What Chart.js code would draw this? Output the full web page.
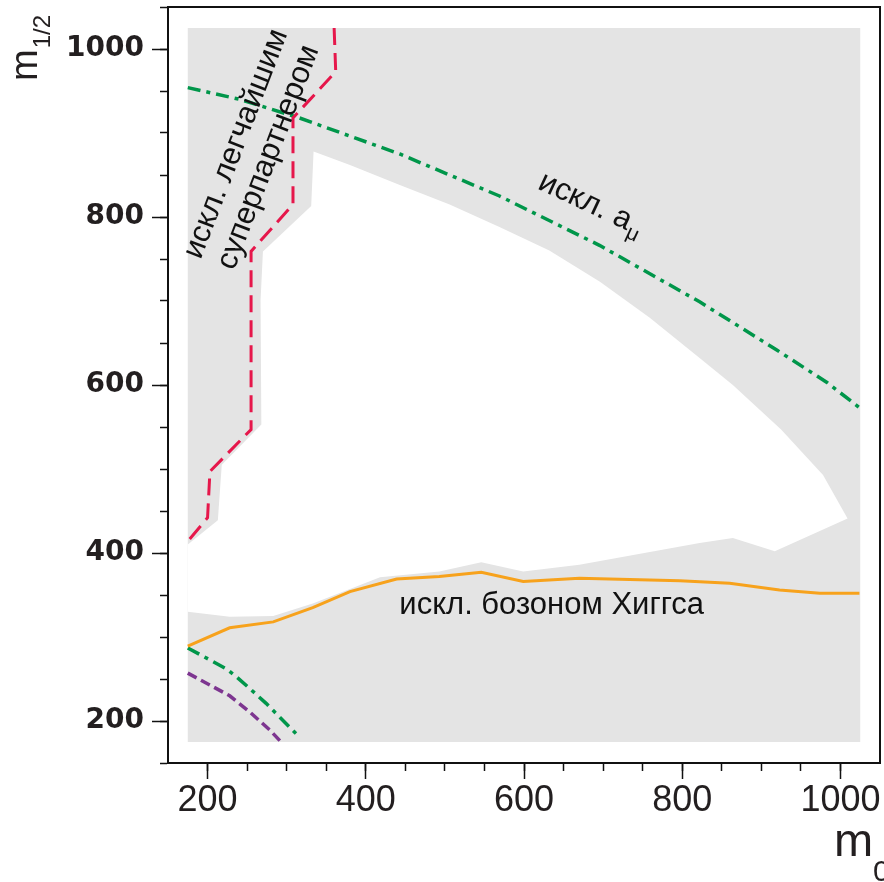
<!DOCTYPE html>
<html>
<head>
<meta charset="utf-8">
<script src="https://cdn.jsdelivr.net/npm/chart.js@4.4.1/dist/chart.umd.min.js"></script>
<style>
  html, body { margin: 0; padding: 0; background: #fff; }
</style>
</head>
<body>
<canvas id="chart" width="884" height="882"></canvas>
<script>
// m0 (x) vs m1/2 (y) plane
const axisMin = 150;
const axisMax = 1050;

// shaded scan square
const scanX = [175, 1025, 1025, 175];
const scanY = [1025, 1025, 175, 175];

// allowed (white) region outline
const allowedX = [334, 380, 443, 506, 569, 632, 696, 759, 822, 864, 925, 978, 1009, 917, 864, 822, 670, 599, 546, 493, 418, 380, 333, 283, 228, 175, 175, 213, 218, 268, 267, 270, 331];
const allowedY = [878, 862, 838, 815, 788, 760, 723, 680, 632, 600, 547, 493, 441, 402, 418, 412, 386, 378, 389, 378, 371, 357, 340, 325, 324, 330, 410, 439, 505, 553, 701, 759, 813];

// lightest superpartner limit (red dashed)
const lspX = [360, 362, 308, 308, 255, 255, 203, 200, 175];
const lspY = [1025, 973, 918, 815, 759, 547, 497, 442, 414];

// a_mu limit, upper branch (green dash-dot)
const amuX = [175, 241, 316, 443, 569, 696, 822, 919, 983, 1024];
const amuY = [954, 940, 918, 875, 825, 766, 699, 642, 603, 573];

// a_mu limit, lower branch
const amuLowX = [175, 224, 236, 253, 274, 314];
const amuLowY = [287, 262, 253, 239, 221, 183];

// Higgs boson limit (orange)
const higgsX = [175, 228, 283, 333, 380, 439, 493, 546, 599, 670, 797, 860, 923, 974, 1024];
const higgsY = [289, 311, 318, 335, 354, 369, 372, 377, 366, 370, 367, 364, 356, 352, 352];

// purple dashed curve
const purpleX = [175, 228, 253, 279, 293];
const purpleY = [257, 230, 211, 189, 175];

const pts = (xs, ys) => xs.map((x, i) => ({ x: x, y: ys[i] }));

const textFont = "'Liberation Sans', Arial, sans-serif";

function turnedText(ctx, text, x, y, deg, font) {
  ctx.save();
  ctx.translate(x, y);
  ctx.rotate(deg * Math.PI / 180);
  ctx.font = font;
  ctx.textAlign = 'center';
  ctx.textBaseline = 'middle';
  ctx.fillText(text, 0, 0);
  ctx.restore();
}

const annotations = {
  id: 'annotations',
  afterDatasetsDraw(chart) {
    const { ctx } = chart;
    const x = chart.scales.x;
    const y = chart.scales.y;
    ctx.save();
    ctx.fillStyle = '#111';

    turnedText(ctx, 'искл. легчайшим', x.getPixelForValue(236), y.getPixelForValue(887), -69, '31px ' + textFont);
    turnedText(ctx, 'суперпартнером', x.getPixelForValue(277), y.getPixelForValue(871), -69, '31px ' + textFont);
    turnedText(ctx, 'искл. бозоном Хиггса', x.getPixelForValue(635), y.getPixelForValue(338), 0, '31px ' + textFont);

    // "искл. a" with subscript mu, along the green curve
    ctx.save();
    ctx.translate(x.getPixelForValue(685), y.getPixelForValue(817));
    ctx.rotate(25 * Math.PI / 180);
    ctx.font = '31px ' + textFont;
    const w1 = ctx.measureText('искл. a').width;
    ctx.font = '21px ' + textFont;
    const w2 = ctx.measureText('μ').width;
    const start = -(w1 + w2) / 2;
    ctx.textAlign = 'left';
    ctx.textBaseline = 'alphabetic';
    ctx.font = '31px ' + textFont;
    ctx.fillText('искл. a', start, 10);
    ctx.font = '21px ' + textFont;
    ctx.fillText('μ', start + w1 + 1, 17);
    ctx.restore();

    // axis titles
    ctx.fillStyle = '#231f20';
    ctx.textAlign = 'left';
    ctx.textBaseline = 'alphabetic';
    ctx.save();
    ctx.translate(37, 81);
    ctx.rotate(-Math.PI / 2);
    ctx.font = '38px ' + textFont;
    const mw = ctx.measureText('m').width;
    ctx.fillText('m', 0, 0);
    ctx.font = '24px ' + textFont;
    ctx.fillText('1/2', mw + 1, 13);
    ctx.restore();

    ctx.font = '47px ' + textFont;
    ctx.fillText('m', 834, 856);
    ctx.font = '30px ' + textFont;
    ctx.fillText('0', 873, 881);

    ctx.restore();
  }
};

const edge = { color: '#111', width: 2 };
const noBound = c => (c.tick && (c.tick.value === axisMin || c.tick.value === axisMax)) ? 'rgba(0,0,0,0)' : '#111';
const fixSize = (w, h) => s => {
  if (w !== null) s.width = w;
  if (h !== null) s.height = h;
  s.paddingLeft = 0; s.paddingRight = 0; s.paddingTop = 0; s.paddingBottom = 0;
};

new Chart(document.getElementById('chart'), {
  type: 'line',
  data: {
    datasets: [
      { data: pts(scanX, scanY), fill: 'shape', backgroundColor: '#e4e4e4', borderWidth: 0, order: 5 },
      { data: pts(allowedX, allowedY), fill: 'shape', backgroundColor: '#ffffff', borderWidth: 0, order: 4 },
      { data: pts(higgsX, higgsY), borderColor: '#f7a21c', borderWidth: 3, order: 1 },
      { data: pts(amuX, amuY), borderColor: '#00964a', borderWidth: 3.5, borderDash: [13, 6, 4, 6], order: 2 },
      { data: pts(amuLowX, amuLowY), borderColor: '#00964a', borderWidth: 3.5, borderDash: [13, 6, 4, 6], order: 2 },
      { data: pts(purpleX, purpleY), borderColor: '#7d3590', borderWidth: 3.5, borderDash: [10, 5], order: 2 },
      { data: pts(lspX, lspY), borderColor: '#e6174b', borderWidth: 3, borderDash: [17, 8], order: 1 }
    ]
  },
  options: {
    responsive: false,
    animation: false,
    events: [],
    layout: { padding: { top: 7, right: 4, bottom: 0, left: 0 } },
    elements: {
      point: { radius: 0 },
      line: { tension: 0, fill: false, borderCapStyle: 'butt' }
    },
    plugins: { legend: { display: false }, tooltip: { enabled: false } },
    scales: {
      x: {
        type: 'linear', position: 'bottom', min: axisMin, max: axisMax, weight: 1,
        afterFit: fixSize(null, 119),
        border: edge,
        grid: { drawOnChartArea: false, tickLength: 16, tickColor: '#111', tickWidth: 1.5 },
        ticks: {
          stepSize: 200, includeBounds: false, autoSkip: false, maxRotation: 0, padding: 4,
          color: '#231f20',
          font: { family: "'Liberation Sans', Arial, sans-serif", size: 36, lineHeight: 1 },
          callback: v => String(v)
        }
      },
      xMinor: {
        type: 'linear', position: 'bottom', min: axisMin, max: axisMax, weight: 0,
        afterFit: fixSize(null, 0),
        border: edge,
        grid: { drawOnChartArea: false, tickLength: 8, tickColor: noBound, tickWidth: 1.5 },
        ticks: { stepSize: 50, display: false }
      },
      xTop: {
        type: 'linear', position: 'top', min: axisMin, max: axisMax,
        afterFit: fixSize(null, 0),
        border: edge,
        grid: { drawOnChartArea: false, drawTicks: false },
        ticks: { display: false }
      },
      y: {
        type: 'linear', position: 'left', min: axisMin, max: axisMax, weight: 1,
        afterFit: fixSize(168, null),
        border: edge,
        grid: { drawOnChartArea: false, tickLength: 16, tickColor: '#111', tickWidth: 1.5 },
        ticks: {
          stepSize: 200, includeBounds: false, autoSkip: false, padding: 8,
          color: '#231f20',
          font: { family: "'DejaVu Sans', sans-serif", size: 28, weight: 'bold', lineHeight: 1 },
          callback: v => String(v)
        }
      },
      yMinor: {
        type: 'linear', position: 'left', min: axisMin, max: axisMax, weight: 0,
        afterFit: fixSize(0, null),
        border: edge,
        grid: { drawOnChartArea: false, tickLength: 8, tickColor: '#111', tickWidth: 1.5 },
        ticks: { stepSize: 50, display: false }
      },
      yRight: {
        type: 'linear', position: 'right', min: axisMin, max: axisMax,
        afterFit: fixSize(0, null),
        border: edge,
        grid: { drawOnChartArea: false, drawTicks: false },
        ticks: { display: false }
      }
    }
  },
  plugins: [annotations]
});
</script>
</body>
</html>
